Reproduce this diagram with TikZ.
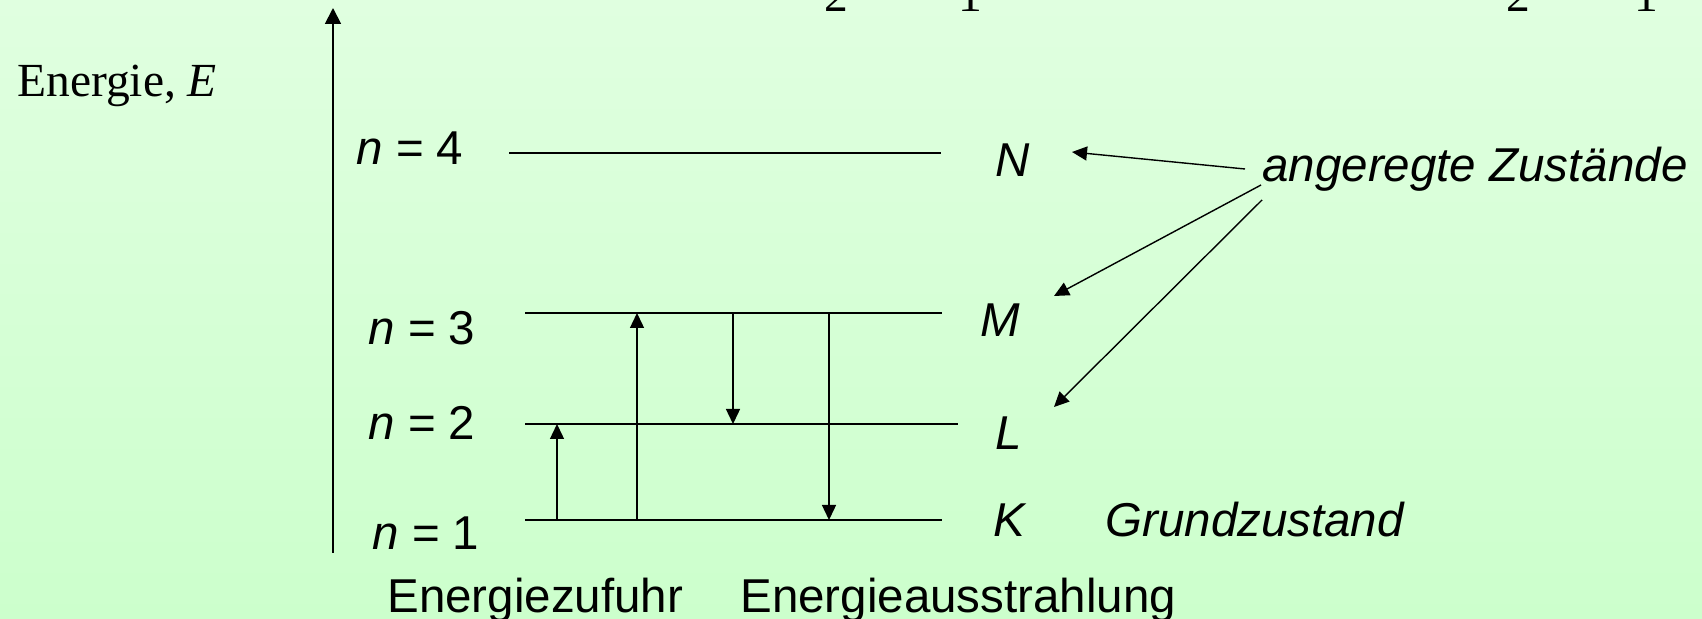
\documentclass[tikz,border=0pt]{standalone}
\usepackage{fontspec}
\setmainfont{Liberation Sans}
\newfontfamily\tnr{Liberation Serif}
\usetikzlibrary{arrows.meta}
\definecolor{bgtop}{RGB}{224,255,224}
\definecolor{bgbot}{RGB}{204,255,204}
\begin{document}
\begin{tikzpicture}[x=0.5pt,y=-0.5pt,
  lbl/.style={anchor=base west,inner sep=0pt,font=\fontsize{23.75}{28}\selectfont},
  serif/.style={anchor=base west,inner sep=0pt,font=\tnr\fontsize{23.75}{28}\selectfont},
  levelline/.style={line width=1pt},
  arr/.style={line width=0.7pt,-{Triangle[length=7.5pt,width=7pt]}},
  axisarr/.style={line width=0.9pt,-{Triangle[length=8pt,width=8pt]}}]
\useasboundingbox (0,0) rectangle (1702,619);
\shade[top color=bgtop,bottom color=bgbot] (0,0) rectangle (1702,619);
\clip (0,0) rectangle (1702,619);
% cut-off formula fragments at the top
\node[serif] (f1) at (824,12) {2};
\node[serif] (f2) at (958,12) {1};
\node[serif] (f3) at (1506,12) {2};
\node[serif] (f4) at (1634,12) {1};
% energy axis
\coordinate (axb) at (333,553);
\coordinate (axt) at (333,8);
\draw[axisarr] (axb) -- (axt);
\node[serif] (elabel) at (17,97) {Energie, \textit{E}};
% quantum number labels
\node[lbl] (n4) at (356,165) {\textit{n} = 4};
\node[lbl] (n3) at (368,345) {\textit{n} = 3};
\node[lbl] (n2) at (368,440) {\textit{n} = 2};
\node[lbl] (n1) at (372,550) {\textit{n} = 1};
% levels
\coordinate (N0) at (509,153); \coordinate (N1) at (941,153);
\coordinate (M0) at (525,313); \coordinate (M1) at (942,313);
\coordinate (L0) at (525,424); \coordinate (L1) at (958,424);
\coordinate (K0) at (525,520); \coordinate (K1) at (942,520);
\draw[levelline] (N0) -- (N1);
\draw[levelline] (M0) -- (M1);
\draw[levelline] (L0) -- (L1);
\draw[levelline] (K0) -- (K1);
% shell letters
\node[lbl] (N) at (995,177) {\textit{N}};
\node[lbl] (M) at (980,337) {\textit{M}};
\node[lbl] (L) at (995,450) {\textit{L}};
\node[lbl] (K) at (993,537) {\textit{K}};
\node[lbl] (grund) at (1105,537) {\textit{Grundzustand}};
\node[lbl] (anger) at (1262,182) {\textit{angeregte Zustände}};
% transitions
\coordinate (t1a) at (557,520); \coordinate (t1b) at (557,424);
\coordinate (t2a) at (637,520); \coordinate (t2b) at (637,313);
\coordinate (t3a) at (733,313); \coordinate (t3b) at (733,424);
\coordinate (t4a) at (829,313); \coordinate (t4b) at (829,520);
\draw[arr] (t1a) -- (t1b);
\draw[arr] (t2a) -- (t2b);
\draw[arr] (t3a) -- (t3b);
\draw[arr] (t4a) -- (t4b);
% pointers from "angeregte Zustände"
\coordinate (p1a) at (1245,169); \coordinate (p1b) at (1072,152);
\coordinate (p2a) at (1261,185); \coordinate (p2b) at (1054,296);
\coordinate (p3a) at (1262,200); \coordinate (p3b) at (1054,407);
\draw[arr] (p1a) -- (p1b);
\draw[arr] (p2a) -- (p2b);
\draw[arr] (p3a) -- (p3b);
% bottom captions
\node[lbl] (zuf) at (387,612) {Energiezufuhr};
\node[lbl] (aus) at (740,612) {Energieausstrahlung};
\end{tikzpicture}
\end{document}
